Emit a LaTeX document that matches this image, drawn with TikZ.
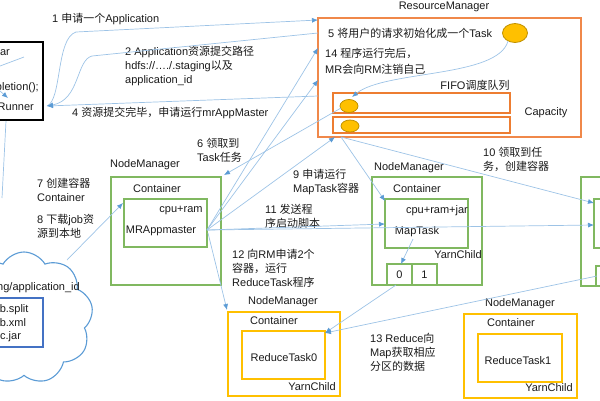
\documentclass[tikz,border=0pt]{standalone}
\usepackage{fontspec}
\setmainfont{Liberation Sans}
\newfontfamily\zhf{Noto Sans CJK SC}
\newcommand\zhtxt[1]{{\zhf #1}}
\usetikzlibrary{arrows.meta,shapes.geometric,shapes.symbols}
\definecolor{rmorange}{HTML}{F0884A}
\definecolor{qorange}{HTML}{ED7D31}
\definecolor{nmgreen}{HTML}{80B860}
\definecolor{nmyellow}{HTML}{FFC000}
\definecolor{ellfill}{HTML}{FFC000}
\definecolor{elldraw}{HTML}{BF9000}
\definecolor{arrline}{HTML}{9DC3E6}
\definecolor{arrhead}{HTML}{5B9BD5}
\definecolor{cloudblue}{HTML}{5B9BD5}
\definecolor{boxblue}{HTML}{4472C4}
\definecolor{txt}{HTML}{1A1A1A}
\begin{document}
\begin{tikzpicture}[x=1pt,y=-1pt,
  font=\fontsize{11}{14}\selectfont, text=txt,
  box/.style={draw, inner sep=0pt, line width=1.4pt},
  nmg/.style={box, draw=nmgreen},
  nmy/.style={box, draw=nmyellow},
  qbox/.style={box, draw=qorange, line width=1.2pt},
  tok/.style={ellipse, draw=elldraw, fill=ellfill, line width=0.8pt, inner sep=0pt},
  lbl/.style={inner sep=0pt, align=left, anchor=west},
  plain/.style={inner sep=0pt},
  arr/.style={draw=arrline, line width=0.7pt, -{Latex[length=6pt,width=5pt,color=arrhead]}},
  ln/.style={draw=arrline, line width=0.7pt}]
\useasboundingbox (0,0) rectangle (600,400);
\clip (0,0) rectangle (600,400);

% ---------- client box ----------
\node[box, draw=black, line width=1.2pt, minimum width=70pt, minimum height=78pt] (client) at (8,81) {};
\node[plain, anchor=east] (cj) at (10,53) {wc.jar};
\node[plain, anchor=east] (cw) at (39,88) {Job.waitForCompletion();};
\node[plain, anchor=east] (cr) at (34,107) {YarnRunner};
\coordinate (rn) at (47,106);
\coordinate (cin1) at (24,57);
\coordinate (cin2) at (0,66);
\draw[ln] (cin1) -- (cin2);
\coordinate (cin3) at (0,91);
\coordinate (cin4) at (8,98);
\draw[arr] (cin3) -- (cin4);

% ---------- cloud ----------
\node[cloud, cloud puffs=9, cloud puff arc=120, aspect=1.05, draw=cloudblue, line width=1.1pt,
      minimum width=138pt, minimum height=132pt] (cloud) at (24,318) {};
\node[plain, anchor=east] (cpath) at (80,288) {/.staging/application\_id};
\node[box, draw=boxblue, line width=1.2pt, minimum width=70pt, minimum height=49pt] (cbox) at (8,322.5) {};
\node[plain, anchor=base west] (f1) at (-9,312) {job.split};
\node[plain, anchor=base west] (f2) at (-9,326) {job.xml};
\node[plain, anchor=base west] (f3) at (-8,339) {wc.jar};

% ---------- ResourceManager ----------
\node[plain] (rmlabel) at (444,7) {ResourceManager};
\node[box, draw=rmorange, minimum width=263pt, minimum height=119pt] (rm) at (449.5,77.5) {};
\node[lbl] (t5) at (328,33) {5 \zhtxt{将用户的请求初始化成一个}Task};
\node[tok, minimum width=25pt, minimum height=19pt] (task) at (515,33) {};
\node[lbl] (t14) at (325,61) {14 \zhtxt{程序运行完后，}\\[2pt]MR\zhtxt{会向}RM\zhtxt{注销自己}};
\node[plain] (fifo) at (475,85) {FIFO\zhtxt{调度队列}};
\node[qbox, minimum width=177pt, minimum height=20pt] (q1) at (421.5,103) {};
\node[qbox, minimum width=177pt, minimum height=16pt] (q2) at (421.5,125) {};
\node[tok, minimum width=18pt, minimum height=13pt] (qe1) at (349,106) {};
\node[tok, minimum width=18pt, minimum height=12pt] (qe2) at (350,126) {};
\node[plain] (cap) at (546,113) {Capacity};

% ---------- NodeManager 1 (MRAppmaster) ----------
\node[plain] (nm1l) at (145,165) {NodeManager};
\node[nmg, minimum width=110pt, minimum height=108pt] (nm1) at (166,231) {};
\node[plain] (c1l) at (157,189) {Container};
\node[nmg, minimum width=83pt, minimum height=48pt] (c1) at (165.5,223) {};
\node[plain] (cpu1) at (181,210) {cpu+ram};
\node[plain] (mra) at (161,231) {MRAppmaster};

% ---------- NodeManager 2 (MapTask) ----------
\node[plain] (nm2l) at (409,168) {NodeManager};
\node[nmg, minimum width=110pt, minimum height=108pt] (nm2) at (427,231) {};
\node[plain] (c2l) at (417,189) {Container};
\node[nmg, minimum width=83pt, minimum height=49pt] (c2) at (426.5,223.5) {};
\node[plain] (cpu2) at (437,211) {cpu+ram+jar};
\node[plain] (mt) at (417,232) {MapTask};
\node[plain] (yc2) at (458,255) {YarnChild};
\node[nmg, minimum width=25pt, minimum height=21pt] (p0) at (399.5,274.5) {0};
\node[nmg, minimum width=25pt, minimum height=21pt] (p1) at (424.5,274.5) {1};

% ---------- NodeManager 3 (right, cut) ----------
\node[nmg, minimum width=110pt, minimum height=109pt] (nm3) at (636,231.5) {};
\node[nmg, minimum width=83pt, minimum height=49pt] (c3) at (635.5,223.5) {};
\node[nmg, minimum width=25pt, minimum height=20pt] (p3) at (608.5,276) {};

% ---------- NodeManager 4 (ReduceTask0) ----------
\node[plain] (nm4l) at (283,302) {NodeManager};
\node[nmy, minimum width=112pt, minimum height=84pt] (nm4) at (284,354) {};
\node[plain] (c4l) at (274,321) {Container};
\node[nmy, minimum width=83pt, minimum height=48pt] (c4) at (283.5,355) {};
\node[plain] (rt0) at (284,358) {ReduceTask0};
\node[plain] (yc4) at (312,387) {YarnChild};

% ---------- NodeManager 5 (ReduceTask1) ----------
\node[plain] (nm5l) at (520,304) {NodeManager};
\node[nmy, minimum width=113pt, minimum height=84pt] (nm5) at (520.5,356) {};
\node[plain] (c5l) at (511,323) {Container};
\node[nmy, minimum width=84pt, minimum height=48pt] (c5) at (520,358) {};
\node[plain] (rt1) at (518,361) {ReduceTask1};
\node[plain] (yc5) at (549,388) {YarnChild};

% ---------- step labels ----------
\node[lbl] (t1) at (52,19) {1 \zhtxt{申请一个}Application};
\node[lbl] (t2) at (125,66) {2 Application\zhtxt{资源提交路径}\\hdfs://…./.staging\zhtxt{以及}\\application\_id};
\node[lbl] (t4) at (72,113) {4 \zhtxt{资源提交完毕，申请运行}mrAppMaster};
\node[lbl] (t6) at (197,150) {6 \zhtxt{领取到}\\Task\zhtxt{任务}};
\node[lbl] (t7) at (37,190) {7 \zhtxt{创建容器}\\Container};
\node[lbl] (t8) at (37,226) {8 \zhtxt{下载}job\zhtxt{资}\\\zhtxt{源到本地}};
\node[lbl] (t9) at (293,182) {9 \zhtxt{申请运行}\\MapTask\zhtxt{容器}};
\node[lbl] (t10) at (483,159) {10 \zhtxt{领取到任}\\\zhtxt{务，创建容器}};
\node[lbl] (t11) at (265,216) {11 \zhtxt{发送程}\\\zhtxt{序启动脚本}};
\node[lbl] (t12) at (232,268) {12 \zhtxt{向}RM\zhtxt{申请}2\zhtxt{个}\\\zhtxt{容器，运行}\\ReduceTask\zhtxt{程序}};
\node[lbl] (t13) at (370,352) {13 Reduce\zhtxt{向}\\Map\zhtxt{获取相应}\\\zhtxt{分区的数据}};

% ---------- connector end points ----------
\coordinate (rm1) at (318,20);
\coordinate (rm2) at (318,33);
\coordinate (rm4) at (318,96);
\coordinate (rm12) at (318,48);
\coordinate (rm14) at (318,80);
\coordinate (rm9) at (335,137);
\coordinate (rm10) at (341,137);
\coordinate (clbot) at (6,121);
\coordinate (cldown) at (2,198);
\coordinate (cloudout) at (67,260);
\coordinate (c1in) at (123,203);
\coordinate (mrout) at (207,230);
\coordinate (mrout2) at (208,233);
\coordinate (nm1in) at (224,175);
\coordinate (qout) at (341,108);
\coordinate (c2top) at (385,201);
\coordinate (c2left) at (385,224);
\coordinate (c3top) at (594,203);
\coordinate (c3left) at (594,225);
\coordinate (nm4in) at (227,310);
\coordinate (mtout) at (413,239);
\coordinate (p0in) at (401,264);
\coordinate (p0out) at (396,285);
\coordinate (p3out) at (597,276);
\coordinate (c4in) at (325,333);
\coordinate (taskout) at (508,41);
\coordinate (qe1in) at (352,97);

% ---------- connectors ----------
\draw[arr] (rn) .. controls (62,100) and (56,38) .. (76,32) -- (rm1);
\draw[arr] (rm2) -- (92,56) .. controls (76,60) and (80,100) .. (rn);
\draw[arr] (rm4) -- (rn);
\draw[ln] (clbot) -- (cldown);
\draw[arr] (taskout) .. controls (498,78) and (385,70) .. (qe1in);
\draw[arr] (qout) -- (nm1in);
\draw[arr] (cloudout) -- (c1in);
\draw[arr] (mrout) -- (rm14);
\draw[arr] (mrout) -- (rm12);
\draw[arr] (mrout) -- (rm9);
\draw[arr] (rm10) -- (c2top);
\draw[arr] (rm10) -- (c3top);
\draw[arr] (mrout) -- (c2left);
\draw[arr] (mrout) -- (c3left);
\draw[arr] (mrout2) -- (nm4in);
\draw[arr] (mtout) -- (p0in);
\draw[arr] (p0out) -- (c4in);
\draw[arr] (p3out) -- (c4in);
\end{tikzpicture}
\end{document}
